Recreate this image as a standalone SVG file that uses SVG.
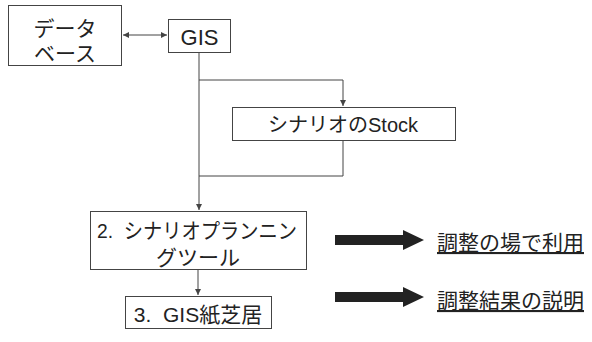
<svg xmlns="http://www.w3.org/2000/svg" width="592" height="342" viewBox="0 0 592 342">
<defs>
<style>
.box{fill:#fff;stroke:#444;stroke-width:1}
.t{font-family:"Liberation Sans","Noto Sans CJK JP",sans-serif;font-size:21px;fill:#222;text-anchor:middle;white-space:pre}
.ln{fill:none;stroke:#444;stroke-width:1}
.u{font-family:"Liberation Sans","Noto Sans CJK JP",sans-serif;font-size:21px;fill:#222;text-decoration:underline}
.big{fill:#222}
</style>
<marker id="ah" viewBox="0 0 8 8" refX="8" refY="4" markerWidth="6" markerHeight="6" orient="auto-start-reverse" markerUnits="userSpaceOnUse">
<path d="M0,0 L8,4 L0,8 z" fill="#444"/>
</marker>
</defs>
<rect width="592" height="342" fill="#fff"/>
<g id="connectors">
<line class="ln" x1="123" y1="35" x2="167" y2="35" marker-start="url(#ah)" marker-end="url(#ah)"/>
<line class="ln" x1="199" y1="52" x2="199" y2="210" marker-end="url(#ah)"/>
<polyline class="ln" points="199,80 343,80 343,106" marker-end="url(#ah)"/>
<polyline class="ln" points="343,140 343,176 199,176"/>
<line class="ln" x1="198" y1="270" x2="198" y2="295" marker-end="url(#ah)"/>
</g>
<g id="database">
<rect class="box" x="8.5" y="5.5" width="113" height="60"/>
<text class="t" x="65" y="36">データ</text>
<text class="t" x="65" y="61">ベース</text>
</g>
<g id="gis">
<rect class="box" x="168.5" y="19.5" width="62" height="33"/>
<text class="t" x="199.5" y="45" style="font-size:22px">GIS</text>
</g>
<g id="stock">
<rect class="box" x="232.5" y="107.5" width="223" height="33"/>
<text class="t" x="343" y="132" style="font-size:20px">シナリオのStock</text>
</g>
<g id="planning">
<rect class="box" x="90.5" y="211.5" width="216" height="58"/>
<text class="t" x="197" y="238" xml:space="preserve" textLength="200" lengthAdjust="spacingAndGlyphs">2.  シナリオプランニン</text>
<text class="t" x="198" y="265">グツール</text>
</g>
<g id="kamishibai">
<rect class="box" x="125.5" y="296.5" width="146" height="32"/>
<text class="t" x="198" y="322" xml:space="preserve">3.  GIS紙芝居</text>
</g>
<g id="use">
<path class="big" d="M335,235 L403,235 L403,230 L424,240 L403,250 L403,245 L335,245 z"/>
<text class="u" x="437" y="250">調整の場で利用</text>
</g>
<g id="explain">
<path class="big" d="M335,292 L403,292 L403,287 L424,297 L403,307 L403,302 L335,302 z"/>
<text class="u" x="437" y="308">調整結果の説明</text>
</g>
</svg>
